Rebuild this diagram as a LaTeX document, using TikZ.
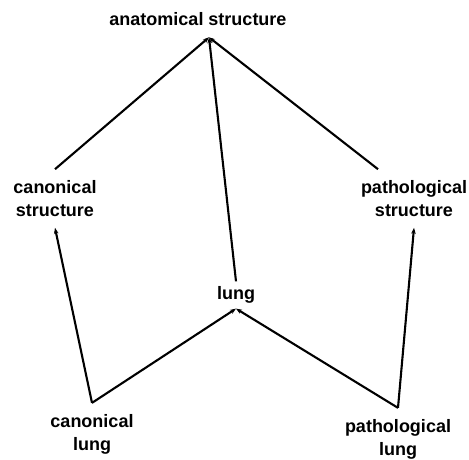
\documentclass[tikz,border=0pt]{standalone}
\usepackage{fontspec}
\setmainfont{Liberation Sans}
\usetikzlibrary{arrows.meta,positioning}

\begin{document}
\begin{tikzpicture}[x=1pt,y=-1pt,
    term/.style={font=\fontsize{18}{23}\selectfont\bfseries,align=center,inner xsep=2pt,inner ysep=11pt},
    isa/.style={line width=2.1pt,-{Stealth[length=6pt,width=4.5pt]}}]
  \useasboundingbox (0,0) rectangle (469,460);
  % terms
  \node[term] (anat) at (198,19.5) {anatomical structure};
  \node[term] (canstruct) at (55,198.5) {canonical\\structure};
  \node[term] (pathstruct) at (414,198.5) {pathological\\structure};
  \node[term,inner ysep=5pt] (lung) at (236,295) {lung};
  \node[term] (canlung) at (92,434) {canonical\\lung};
  \node[term] (pathlung) at (398,439) {pathological\\lung};
  % is-a links
  \draw[isa] (canstruct.north) -- ([xshift=11pt]anat.south);
  \draw[isa] (lung.north) -- ([xshift=11pt]anat.south);
  \draw[isa] ([xshift=-36pt]pathstruct.north) -- ([xshift=11pt]anat.south);
  \draw[isa] (canlung.north) -- (canstruct.south);
  \draw[isa] (canlung.north) -- (lung.south);
  \draw[isa] (pathlung.north) -- (lung.south);
  \draw[isa] (pathlung.north) -- (pathstruct.south);
\end{tikzpicture}
\end{document}
